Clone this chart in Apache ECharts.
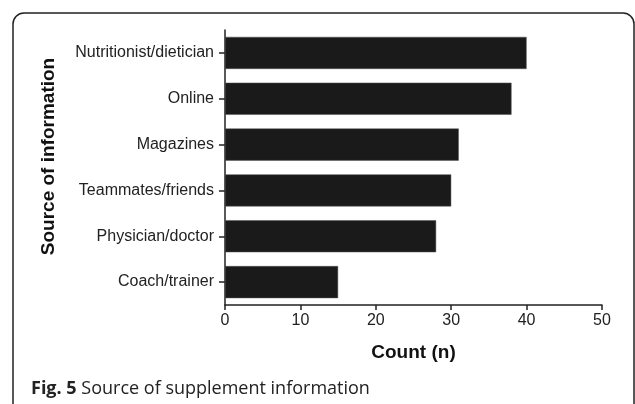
<!DOCTYPE html>
<html>
<head>
<meta charset="utf-8">
<script src="https://cdn.jsdelivr.net/npm/echarts@6/dist/echarts.min.js"></script>
<style>
html,body{margin:0;padding:0;background:#fff;}
#chart{width:635px;height:404px;}
</style>
</head>
<body>
<div id="chart"></div>
<script>
const categories = ['Nutritionist/dietician', 'Online', 'Magazines', 'Teammates/friends', 'Physician/doctor', 'Coach/trainer'];
const counts = [40, 38, 31, 30, 28, 15];
const xTicks = [0, 10, 20, 30, 40, 50];
const xTitle = 'Count (n)';
const yTitle = 'Source of information';
const captionBold = 'Fig. 5';
const captionText = ' Source of supplement information';

const chart = echarts.init(document.getElementById('chart'), null, {renderer: 'canvas'});
const axisColor = '#222';
const labelFont = 'Liberation Sans, Arial, sans-serif';

chart.setOption({
  animation: false,
  backgroundColor: '#fff',
  grid: {left: 225, right: 33, top: 30, bottom: 99, containLabel: false},
  xAxis: {
    type: 'value',
    min: xTicks[0],
    max: xTicks[xTicks.length - 1],
    interval: xTicks[1] - xTicks[0],
    name: xTitle,
    nameLocation: 'middle',
    nameGap: 38,
    nameTextStyle: {fontFamily: labelFont, fontWeight: 'bold', fontSize: 19, color: '#111'},
    axisLine: {show: true, lineStyle: {color: axisColor, width: 1.5}},
    axisTick: {show: true, length: 5, lineStyle: {color: axisColor, width: 1.5}},
    axisLabel: {fontFamily: labelFont, fontSize: 16, color: '#222', margin: 8},
    splitLine: {show: false}
  },
  yAxis: {
    type: 'category',
    data: categories,
    inverse: true,
    name: yTitle,
    nameLocation: 'middle',
    nameGap: 167,
    nameRotate: 90,
    nameTextStyle: {fontFamily: labelFont, fontWeight: 'bold', fontSize: 19, color: '#111', padding: [0, 0, 0, 22]},
    axisLine: {show: true, lineStyle: {color: axisColor, width: 1.5}},
    axisTick: {show: true, length: 6, alignWithLabel: true, lineStyle: {color: axisColor, width: 1.5}},
    axisLabel: {fontFamily: labelFont, fontSize: 16, color: '#222', margin: 11},
    splitLine: {show: false}
  },
  series: [{
    type: 'bar',
    data: counts,
    barCategoryGap: '30%',
    itemStyle: {color: '#1a1a1a', borderColor: '#555', borderWidth: 0.5}
  }],
  graphic: [
    {
      type: 'rect',
      shape: {x: 13, y: 13, width: 621, height: 430, r: 11},
      style: {fill: 'none', stroke: '#222', lineWidth: 1.5},
      silent: true
    },
    {
      type: 'text',
      left: 31,
      top: 380,
      style: {
        text: '{b|' + captionBold + '}{n|' + captionText + '}',
        rich: {
          b: {fontFamily: 'Open Sans, Noto Sans, sans-serif', fontWeight: 'bold', fontSize: 18, fill: '#222'},
          n: {fontFamily: 'Open Sans, Noto Sans, sans-serif', fontSize: 18, fill: '#222'}
        }
      }
    }
  ]
});
</script>
</body>
</html>
